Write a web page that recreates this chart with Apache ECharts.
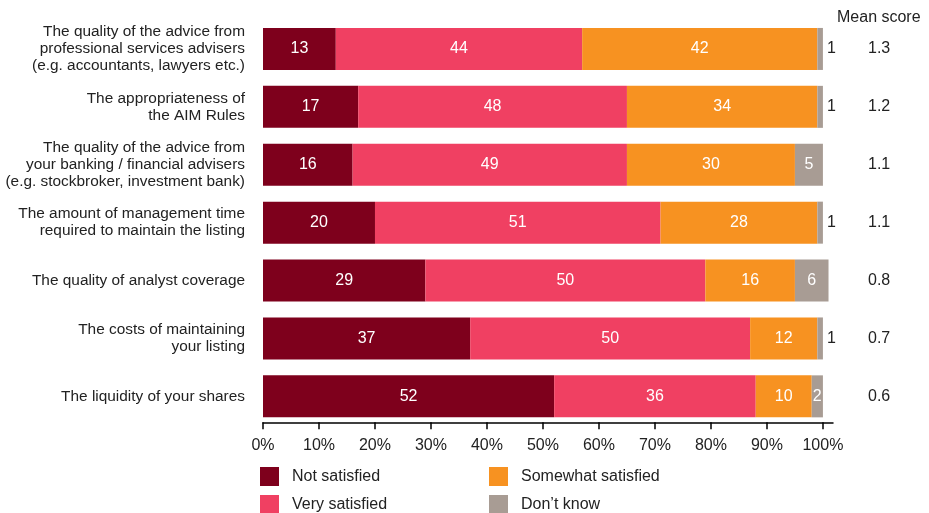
<!DOCTYPE html>
<html>
<head>
<meta charset="utf-8">
<script src="https://cdn.jsdelivr.net/npm/echarts@6/dist/echarts.min.js"></script>
<style>html,body{margin:0;padding:0;background:#fff}#c{width:929px;height:513px}</style>
</head>
<body>
<div id="c"></div>
<script>
var categories = [
  "The quality of the advice from\nprofessional services advisers\n(e.g. accountants, lawyers etc.)",
  "The appropriateness of\nthe AIM Rules",
  "The quality of the advice from\nyour banking / financial advisers\n(e.g. stockbroker, investment bank)",
  "The amount of management time\nrequired to maintain the listing",
  "The quality of analyst coverage",
  "The costs of maintaining\nyour listing",
  "The liquidity of your shares"
];
var notSatisfied = [13, 17, 16, 20, 29, 37, 52];
var verySatisfied = [44, 48, 49, 51, 50, 50, 36];
var somewhatSatisfied = [42, 34, 30, 28, 16, 12, 10];
var dontKnow = [1, 1, 5, 1, 6, 1, 2];
var meanScores = ["1.3", "1.2", "1.1", "1.1", "0.8", "0.7", "0.6"];
var xTicks = [0, 10, 20, 30, 40, 50, 60, 70, 80, 90, 100];
var seriesNames = ["Not satisfied", "Very satisfied", "Somewhat satisfied", "Don’t know"];

var FONT = "Liberation Sans, Arial, Helvetica, sans-serif";
var colors = ["#7e001c", "#f04062", "#f79221", "#a89c94"];

function seriesOf(name, data, color) {
  return {
    name: name, type: "bar", stack: "all", barWidth: 42,
    itemStyle: { color: color },
    label: { show: true, position: "inside", color: "#fff", fontSize: 16, fontFamily: FONT },
    data: data
  };
}
var dkData = dontKnow.map(function (v) {
  if (v <= 1) {
    return { value: v, label: { position: "right", distance: 4, color: "#222" } };
  }
  return { value: v };
});

var legendPos = [[260, 467], [260, 495], [489, 467], [489, 495]];
var legends = seriesNames.map(function (n, i) {
  return {
    data: [n], left: legendPos[i][0], top: legendPos[i][1],
    itemWidth: 19, itemHeight: 19, icon: "rect", padding: 0,
    textStyle: { fontSize: 16, color: "#222", fontFamily: FONT, padding: [0, 0, 0, 8] }
  };
});

var chart = echarts.init(document.getElementById("c"));
chart.setOption({
  animation: false,
  textStyle: { fontFamily: FONT },
  title: {
    text: "Mean score", left: 832, top: 5,
    textStyle: { fontSize: 16, fontWeight: "normal", color: "#222", fontFamily: FONT }
  },
  legend: legends,
  grid: { left: 263, right: 96, top: 20, height: 405.3, containLabel: false },
  xAxis: {
    type: "value", min: 0, max: 101.8, offset: -3,
    axisLine: { show: true, lineStyle: { color: "#000", width: 1.5 } },
    axisTick: { show: true, length: 7, lineStyle: { color: "#000", width: 1.5 }, customValues: xTicks },
    axisLabel: { fontSize: 16, color: "#222", margin: 15, customValues: xTicks, formatter: "{value}%" },
    splitLine: { show: false }
  },
  yAxis: [
    {
      type: "category", data: categories, inverse: true,
      axisLine: { show: false }, axisTick: { show: false },
      axisLabel: { fontSize: 15.4, color: "#222", margin: 18, lineHeight: 17, align: "right" }
    },
    {
      type: "category", data: meanScores, inverse: true, position: "right",
      axisLine: { show: false }, axisTick: { show: false },
      axisLabel: { fontSize: 16, color: "#222", margin: 35, align: "left" }
    }
  ],
  series: [
    seriesOf(seriesNames[0], notSatisfied, colors[0]),
    seriesOf(seriesNames[1], verySatisfied, colors[1]),
    seriesOf(seriesNames[2], somewhatSatisfied, colors[2]),
    seriesOf(seriesNames[3], dkData, colors[3])
  ]
});
</script>
</body>
</html>
